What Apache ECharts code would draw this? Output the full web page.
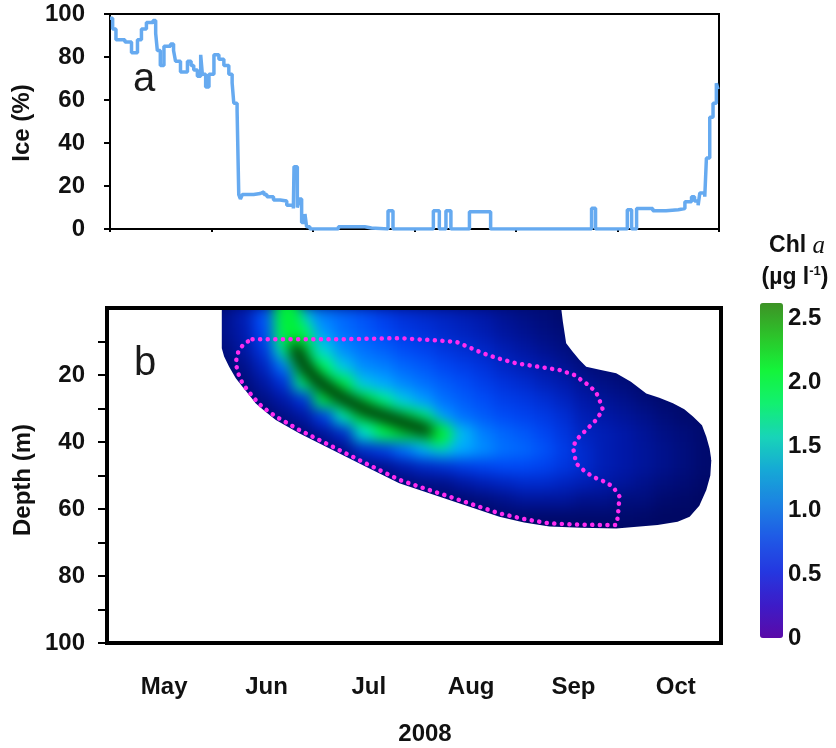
<!DOCTYPE html>
<html>
<head>
<meta charset="utf-8">
<title>Ice cover and Chl a, 2008</title>
<script src="https://cdn.jsdelivr.net/npm/echarts@6/dist/echarts.min.js"></script>
<style>
  html, body { margin: 0; padding: 0; background: #fff; }
  #wrap { position: relative; width: 836px; height: 748px; background: #fff; }
  /* the Chl a field is drawn on its own layer and softened, the rest of the figure sits on top */
  #fieldClip { position: absolute; left: 107px; top: 308px; width: 614px; height: 335px; overflow: hidden; }
  #field { position: absolute; left: -20px; top: -20px; width: 654px; height: 375px; background: #000a6a; filter: blur(7px); }
  #main { position: absolute; left: 0; top: 0; width: 836px; height: 748px; }
</style>
</head>
<body>
<div id="wrap">
  <div id="fieldClip"><div id="field"></div></div>
  <div id="main"></div>
</div>
<script>
// ---- data -------------------------------------------------------------
const months = ['May', 'Jun', 'Jul', 'Aug', 'Sep', 'Oct'];
const DAY_MAX = 184;               // days from 1 May to 1 Nov 2008

// ice cover (%), [day since 1 May, percent]
const iceCover = [
  [0, 98], [0.8, 93], [1.8, 88], [4.5, 87], [6.5, 82], [8.3, 88], [9.5, 93], [11, 96], [13, 97],
  [13.8, 91], [14.3, 83], [15.2, 76], [16.3, 85], [18.3, 86], [19.2, 83], [19.8, 78], [21.3, 73],
  [23.4, 78], [24.5, 76], [25.3, 74], [26.4, 71], [27.4, 81], [27.9, 72], [28.9, 66], [29.9, 72],
  [31.4, 81], [32.9, 79], [34.4, 76], [35.9, 72], [36.9, 68], [37.4, 58.5], [38.4, 55], [38.9, 16],
  [39.4, 14], [40, 16], [43.4, 16.5], [45.4, 17.3], [46.5, 16], [47.4, 15], [49.4, 13.5], [51.4, 13],
  [53.4, 11], [55.4, 9.5], [55.6, 29], [56.6, 10], [57.2, 14], [57.9, 3], [58.9, 7], [59.4, 1],
  [60.4, 0], [69, 1], [77, 0.5], [79, 0], [84, 8.5], [85.5, 0], [97.7, 8.5], [99.5, 0], [101.5, 8.5],
  [103, 0], [108.6, 8], [115, 0], [145.5, 9.7], [146.7, 0], [156.3, 9], [157.6, 0], [159.1, 9.5],
  [164, 8.5], [168, 9], [171.7, 9.5], [173.7, 12.7], [175.7, 15], [176.6, 13], [177.7, 11],
  [178.2, 16.7], [179.7, 15], [180.2, 33], [181.2, 52], [182.2, 58.5], [183.2, 67.8], [183.7, 65]
];

// Chl a profiles (µg l-1): one column per sampling day, rows at profileDepths
const profileDays = [35, 41, 47, 53, 59, 65, 71, 77, 83, 89, 95, 101, 107, 113, 119, 125, 131, 137, 143, 149, 155, 161, 167, 173, 179];
const profileDepths = [2.5, 7.5, 12.5, 17.5, 22.5, 27.5, 32.5, 37.5, 42.5, 47.5, 52.5, 57.5, 62.5, 67.5];
const chlProfiles = [
  [0.3, 0.3, 0.26, 0.22, null, null, null, null, null, null, null, null, null, null],
  [0.45, 0.42, 0.38, 0.3, 0.24, 0.2, null, null, null, null, null, null, null, null],
  [0.85, 0.8, 0.65, 0.5, 0.38, 0.28, 0.2, null, null, null, null, null, null, null],
  [1.6, 1.6, 1.4, 1.0, 0.6, 0.4, 0.28, 0.2, null, null, null, null, null, null],
  [1.3, 1.6, 1.9, 1.9, 1.5, 0.62, 0.38, 0.24, null, null, null, null, null, null],
  [1.05, 1.15, 1.35, 1.6, 1.9, 1.7, 0.7, 0.36, 0.22, null, null, null, null, null],
  [0.95, 1.0, 1.1, 1.3, 1.7, 1.9, 1.4, 0.55, 0.3, 0.2, null, null, null, null],
  [0.85, 0.9, 1.0, 1.1, 1.3, 1.8, 1.9, 1.4, 0.55, 0.28, null, null, null, null],
  [0.72, 0.8, 0.92, 1.05, 1.2, 1.5, 1.9, 1.7, 0.7, 0.32, 0.2, null, null, null],
  [0.6, 0.68, 0.82, 0.95, 1.08, 1.3, 1.8, 1.9, 1.0, 0.42, 0.24, null, null, null],
  [0.55, 0.62, 0.75, 0.88, 1.0, 1.15, 1.5, 1.9, 1.2, 0.52, 0.28, 0.2, null, null],
  [0.5, 0.55, 0.65, 0.78, 0.9, 1.0, 1.15, 1.55, 1.3, 0.58, 0.3, 0.2, null, null],
  [0.45, 0.5, 0.58, 0.7, 0.82, 0.9, 1.0, 1.25, 1.2, 0.68, 0.38, 0.22, null, null],
  [0.4, 0.44, 0.52, 0.62, 0.72, 0.82, 0.9, 1.05, 1.1, 0.75, 0.45, 0.25, 0.18, null],
  [0.33, 0.37, 0.44, 0.52, 0.62, 0.72, 0.82, 0.95, 1.0, 0.8, 0.5, 0.3, 0.2, null],
  [0.28, 0.32, 0.38, 0.46, 0.56, 0.66, 0.76, 0.88, 0.95, 0.8, 0.55, 0.35, 0.2, null],
  [0.24, 0.27, 0.32, 0.4, 0.48, 0.58, 0.68, 0.78, 0.85, 0.75, 0.55, 0.35, 0.2, 0.15],
  [0.2, 0.23, 0.27, 0.33, 0.42, 0.5, 0.58, 0.65, 0.7, 0.65, 0.5, 0.35, 0.2, 0.15],
  [null, null, 0.2, 0.26, 0.33, 0.4, 0.45, 0.5, 0.55, 0.55, 0.45, 0.3, 0.2, 0.15],
  [null, null, null, 0.22, 0.28, 0.34, 0.4, 0.45, 0.45, 0.45, 0.4, 0.3, 0.2, 0.15],
  [null, null, null, 0.2, 0.24, 0.3, 0.35, 0.4, 0.4, 0.4, 0.35, 0.25, 0.2, 0.15],
  [null, null, null, null, 0.2, 0.24, 0.3, 0.34, 0.35, 0.35, 0.3, 0.25, 0.18, null],
  [null, null, null, null, null, 0.2, 0.24, 0.28, 0.3, 0.3, 0.25, 0.2, 0.15, null],
  [null, null, null, null, null, null, 0.2, 0.24, 0.25, 0.25, 0.22, 0.18, 0.15, null],
  [null, null, null, null, null, null, null, 0.2, 0.2, 0.2, 0.18, 0.15, null, null]
];

// bloom layer: depth of the Chl a maximum, [day, depth m]
const bloomLayer = [
  [54, 0], [55, 5], [56.5, 12], [58.5, 16], [61, 19.5], [65, 23], [70, 26.5], [77.6, 30.4],
  [84.6, 32.8], [89.6, 34.5], [93, 35.5], [96, 36.6], [99.5, 37.8]
];
const bloomCore = [
  [56.5, 12], [58.5, 16], [61, 19.5], [65, 23], [70, 26.5], [77.6, 30.4], [84.6, 32.8],
  [89.6, 34.5], [93, 35.5], [96, 36.6]
];
const CHL_CORE = 2.6;    // µg l-1 in the core of the layer
const CHL_BAND = 1.8;    // µg l-1 across the layer

// limits of the sampled water column, [day, depth m]
const shelfBottom = [
  [0, 0], [34.4, 0], [34.4, 12], [35.1, 14.5], [36.6, 17.5], [38.6, 21], [40.6, 23.5], [42.6, 26],
  [44.6, 28.5], [47.5, 31], [50.6, 33.4], [57.6, 37.4], [67.6, 42.4], [77.6, 47.4], [87.6, 52.3],
  [95, 54.8], [102.6, 57.3], [110, 59.8], [117.6, 62.3], [125, 64], [132.6, 65.2], [142, 65.6],
  [152.6, 65.8], [165, 64.8], [171, 63.8], [174.6, 62.3], [177.5, 59], [179.6, 54.3], [180.8, 50],
  [181.1, 45.4], [181.15, 0], [184, 0]
];
const shelfTop = [
  [0, 0], [136.1, 0], [136.6, 4], [137.6, 10.5], [139.5, 13], [141.6, 15.5], [143.6, 17.5],
  [148, 18.5], [152.6, 19.5], [157, 22], [161.6, 25.5], [165.5, 26.8], [169.6, 28.4], [173, 30.2],
  [175.6, 32.4], [178.3, 35], [179.6, 38.4], [180.6, 42], [181.1, 45.4], [184, 45.4]
];

// dotted contour, [day, depth m]
const contourLine = [
  [43.6, 9.3], [57.6, 9.3], [72.6, 9.3], [87.6, 9.0], [97.5, 9.6], [104.6, 10.1], [108, 11.5],
  [112.6, 13.5], [117, 15], [122.6, 16.5], [129, 17.5], [135.6, 18.5], [140, 20], [143.6, 22.5],
  [146.5, 25], [147.6, 27.5], [148.6, 30.4], [146.5, 33.5], [143.6, 36.4], [141, 39], [139.6, 41.4],
  [140.6, 46.4], [143, 48.6], [145.6, 50.4], [149, 51.8], [151.6, 53.3], [153.6, 56.3], [153.3, 59.5],
  [153.1, 62.3], [152.6, 64.8], [142, 64.7], [132.6, 64.3], [125, 63], [117.6, 61.3], [110, 58.8],
  [102.6, 56.3], [95, 53.8], [87.6, 51.3], [77.6, 46.4], [67.6, 41.4], [57.6, 36.4], [50.6, 32.4],
  [46.5, 29.5], [44.6, 27.5], [42.5, 25], [40.6, 22.5], [39.3, 19.5], [38.6, 16.5], [39.0, 14],
  [39.6, 12.5], [41.2, 10.5], [43.6, 9.3]
];

const depthTicks = [10, 20, 30, 40, 50, 60, 70, 80, 90, 100];
const depthLabels = [20, 40, 60, 80, 100];
const chlTicks = [0, 0.5, 1.0, 1.5, 2.0, 2.5];

// ---- shared styling ---------------------------------------------------
const FONT = '"Liberation Sans", Arial, Helvetica, sans-serif';
const INK = '#111';
const CELL_DAYS = 6, CELL_M = 5;
const FIELD_MAX = 2.6;
const fieldColors = ['#000040', '#000a6e', '#0018a8', '#0030d8', '#0048f5', '#0070ff', '#00a8ff',
  '#00e0d0', '#00ff70', '#00f038', '#00c020', '#008014', '#00480c', '#002206'];
const barColors = ['#5a0aa8', '#3c1cc8', '#2438e0', '#1f5ae6', '#1c82e2', '#16a8d6', '#18d4b8',
  '#12f070', '#14f43a', '#2cc42a', '#3d9226'];

// colour of a Chl a value on the field scale (same stops as the field's visualMap)
function fieldColor(v) {
  const t = Math.max(0, Math.min(1, v / FIELD_MAX)) * (fieldColors.length - 1);
  return fieldColors[Math.round(t)];
}

// ---- Chl a field layer --------------------------------------------------
const fieldData = [];
profileDays.forEach(function (d, i) {
  chlProfiles[i].forEach(function (v, j) {
    if (v != null) fieldData.push([d, profileDepths[j], v]);
  });
});

const field = echarts.init(document.getElementById('field'), null, { renderer: 'canvas' });
field.setOption({
  animation: false,
  backgroundColor: 'transparent',
  grid: { left: 20, top: 20, width: 614, height: 335 },
  xAxis: { type: 'value', min: 0, max: DAY_MAX, show: false },
  yAxis: { type: 'value', min: 0, max: 100, inverse: true, show: false },
  visualMap: { show: false, type: 'continuous', min: 0, max: FIELD_MAX, dimension: 2, seriesIndex: 0,
    inRange: { color: fieldColors } },
  series: [{
    type: 'custom',
    dimensions: ['day', 'depth', 'chl'],
    encode: { x: 0, y: 1 },
    data: fieldData,
    renderItem: function (params, api) {
      const d = api.value(0), z = api.value(1);
      const p0 = api.coord([d - CELL_DAYS / 2, z - CELL_M / 2]);
      const p1 = api.coord([d + CELL_DAYS / 2, z + CELL_M / 2]);
      return {
        type: 'rect',
        shape: {
          x: Math.min(p0[0], p1[0]) - 0.5, y: Math.min(p0[1], p1[1]) - 0.5,
          width: Math.abs(p1[0] - p0[0]) + 1, height: Math.abs(p1[1] - p0[1]) + 1
        },
        style: { fill: api.visual('color') }
      };
    }
  }, {
    // the bloom layer as a band
    type: 'line', data: bloomLayer, smooth: 0.4, showSymbol: false, z: 3,
    lineStyle: { color: fieldColor(CHL_BAND), width: 25, cap: 'round' }
  }, {
    // and its core
    type: 'line', data: bloomCore, smooth: 0.4, showSymbol: false, z: 4,
    lineStyle: { color: fieldColor(CHL_CORE), width: 13, cap: 'round' }
  }]
});

// ---- main figure ------------------------------------------------------
const labelStyle = { fontFamily: FONT, fontSize: 24, fontWeight: 'bold', color: INK };

const chart = echarts.init(document.getElementById('main'), null, { renderer: 'canvas' });
chart.setOption({
  animation: false,
  backgroundColor: 'transparent',
  textStyle: { fontFamily: FONT, color: INK },
  grid: [
    { left: 110, top: 14, width: 609, height: 215, show: true, borderColor: '#000', borderWidth: 2, backgroundColor: 'transparent' },
    { left: 107, top: 308, width: 614, height: 335, show: true, borderColor: '#000', borderWidth: 4, backgroundColor: 'transparent', z: 10 },
    { left: 760, top: 303, width: 23, height: 335, show: false }
  ],
  xAxis: [
    { gridIndex: 0, type: 'category', data: months, boundaryGap: true,
      axisLine: { lineStyle: { color: '#000', width: 2 } },
      axisTick: { show: true, length: 3, lineStyle: { color: '#000', width: 2 } },
      axisLabel: { show: false }, splitLine: { show: false } },
    { gridIndex: 1, type: 'category', data: months, boundaryGap: true,
      axisLine: { show: false }, axisTick: { show: false },
      axisLabel: Object.assign({ margin: 32, padding: [0, 0, 0, 12] }, labelStyle), splitLine: { show: false } },
    { gridIndex: 0, type: 'value', min: 0, max: DAY_MAX, show: false },
    { gridIndex: 1, type: 'value', min: 0, max: DAY_MAX, show: false },
    { gridIndex: 2, type: 'value', show: false }
  ],
  yAxis: [
    { gridIndex: 0, type: 'value', min: 0, max: 100, interval: 20,
      axisLine: { show: true, lineStyle: { color: '#000', width: 2 } },
      axisTick: { show: true, length: 6, lineStyle: { color: '#000', width: 2 } },
      axisLabel: Object.assign({ margin: 25 }, labelStyle), splitLine: { show: false } },
    { gridIndex: 1, type: 'value', min: 0, max: 100, interval: 10, inverse: true,
      axisLine: { show: false },
      axisTick: { show: true, length: 9, customValues: depthTicks, lineStyle: { color: '#000', width: 2 } },
      axisLabel: Object.assign({ margin: 22, customValues: depthLabels, padding: [0, 0, 14, 0] }, labelStyle),
      splitLine: { show: false } },
    { gridIndex: 2, type: 'value', min: 0, max: 2.62, interval: 0.5, position: 'right',
      axisLine: { show: false }, axisTick: { show: false }, splitLine: { show: false },
      axisLabel: Object.assign({ margin: 5, customValues: chlTicks,
        formatter: function (v) { return v === 0 ? '0' : v.toFixed(1); } }, labelStyle) }
  ],
  visualMap: [{
    type: 'continuous', seriesIndex: [], show: true, calculable: false,
    min: 0, max: 2.62, left: 760, top: 303, itemWidth: 23, itemHeight: 335, padding: 0,
    text: null, inRange: { color: barColors }
  }],
  series: [
    { name: 'Ice', type: 'line', xAxisIndex: 2, yAxisIndex: 0, data: iceCover, step: 'end',
      showSymbol: false, silent: true, z: 3,
      lineStyle: { color: '#66aaf0', width: 3.5 } },
    { name: 'below profiles', type: 'line', xAxisIndex: 3, yAxisIndex: 1, data: shelfBottom,
      showSymbol: false, silent: true, z: 3,
      lineStyle: { width: 0, opacity: 0 }, areaStyle: { color: '#fff', opacity: 1, origin: 'end' } },
    { name: 'above profiles', type: 'line', xAxisIndex: 3, yAxisIndex: 1, data: shelfTop,
      showSymbol: false, silent: true, z: 3,
      lineStyle: { width: 0, opacity: 0 }, areaStyle: { color: '#fff', opacity: 1, origin: 'start' } },
    { name: 'contour', type: 'line', xAxisIndex: 3, yAxisIndex: 1, data: contourLine,
      showSymbol: false, silent: true, z: 4,
      lineStyle: { color: '#ff2cf0', width: 4.5, type: [0.1, 7.5], cap: 'round' } }
  ],
  graphic: [
    { type: 'text', x: 144, y: 80, silent: true,
      style: { text: 'a', font: 'normal 40px ' + FONT, fill: '#1a1a1a', align: 'center', verticalAlign: 'middle' } },
    { type: 'text', x: 145, y: 364, silent: true, z: 20,
      style: { text: 'b', font: 'normal 40px ' + FONT, fill: '#1a1a1a', align: 'center', verticalAlign: 'middle' } },
    { type: 'text', x: 22, y: 123, rotation: Math.PI / 2, silent: true,
      style: { text: 'Ice (%)', font: 'bold 24px ' + FONT, fill: INK, align: 'center', verticalAlign: 'middle' } },
    { type: 'text', x: 23, y: 480, rotation: Math.PI / 2, silent: true,
      style: { text: 'Depth (m)', font: 'bold 24px ' + FONT, fill: INK, align: 'center', verticalAlign: 'middle' } },
    { type: 'text', x: 425, y: 734, silent: true,
      style: { text: '2008', font: 'bold 24px ' + FONT, fill: INK, align: 'center', verticalAlign: 'middle' } },
    { type: 'text', x: 797, y: 246, silent: true,
      style: {
        text: '{t|Chl }{i|a}', align: 'center', verticalAlign: 'middle',
        rich: {
          t: { fontFamily: FONT, fontSize: 23, fontWeight: 'bold', fill: INK },
          i: { fontFamily: '"Liberation Serif", "Times New Roman", serif', fontSize: 25, fontStyle: 'italic', fill: INK }
        }
      } },
    { type: 'text', x: 795, y: 278, silent: true,
      style: {
        text: '{t|(µg l}{s|-1}{t|)}', align: 'center', verticalAlign: 'middle',
        rich: {
          t: { fontFamily: FONT, fontSize: 23, fontWeight: 'bold', fill: INK, lineHeight: 26 },
          s: { fontFamily: FONT, fontSize: 13, fontWeight: 'bold', fill: INK, verticalAlign: 'top', lineHeight: 26, padding: [0, 0, 10, 0] }
        }
      } }
  ]
});
</script>
</body>
</html>
